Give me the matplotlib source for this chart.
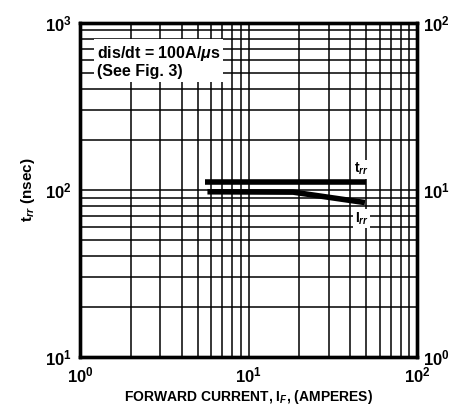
import numpy as np
import matplotlib
matplotlib.use("Agg")
import matplotlib.pyplot as plt
from matplotlib.ticker import LogLocator, NullFormatter

plt.rcParams['font.family'] = ['Liberation Sans', 'DejaVu Sans']
plt.rcParams['font.weight'] = 'bold'
plt.rcParams['axes.labelweight'] = 'bold'
plt.rcParams['mathtext.fontset'] = 'custom'
plt.rcParams['mathtext.rm'] = 'Liberation Sans:bold'
plt.rcParams['mathtext.it'] = 'Liberation Sans:italic:bold'
plt.rcParams['mathtext.bf'] = 'Liberation Sans:bold'

# data (forward current in A)
if_trr = [5.5, 50.0]
trr_ns = [111.0, 111.0]
if_irr = [5.7, 18.4, 49.0]
irr_a = [9.75, 9.7, 8.4]

fig = plt.figure(figsize=(4.52, 4.08), dpi=100)
ax = fig.add_axes([0.177, 0.125, 0.746, 0.819])
ax.set_xscale('log')
ax.set_yscale('log')
ax.set_xlim(1, 100)
ax.set_ylim(10, 1000)

# log paper grid
ax.xaxis.set_minor_locator(LogLocator(base=10, subs=np.arange(2, 10)))
ax.yaxis.set_minor_locator(LogLocator(base=10, subs=np.arange(2, 10)))
ax.xaxis.set_minor_formatter(NullFormatter())
ax.yaxis.set_minor_formatter(NullFormatter())
ax.grid(True, which='both', color='black', linewidth=1.1)
ax.tick_params(which='both', length=0, labelsize=12, pad=6)
for s in ax.spines.values():
    s.set_linewidth(2.4)

ax2 = ax.twinx()
ax2.set_yscale('log')
ax2.set_ylim(1, 100)
ax2.yaxis.set_minor_formatter(NullFormatter())
ax2.tick_params(which='both', length=0, labelsize=12, pad=4)
for s in ax2.spines.values():
    s.set_linewidth(2.4)

ax.plot(if_trr, trr_ns, color='black', linewidth=4, solid_capstyle='butt', zorder=5)
ax2.plot(if_irr, irr_a, color='black', linewidth=4, solid_capstyle='butt', zorder=5)

ax.text(0.05, 0.885, 'dis/dt = 100A/$\\mu$s\n(See Fig. 3)', transform=ax.transAxes,
        fontsize=11.5, va='center', ha='left', linespacing=1.1, zorder=6,
        bbox=dict(facecolor='white', edgecolor='none', pad=2))
ax.text(0.835, 0.562, 't$_{rr}$', transform=ax.transAxes, fontsize=10,
        ha='center', va='center', zorder=6,
        bbox=dict(facecolor='white', edgecolor='none', pad=1))
ax.text(0.835, 0.415, 'I$_{rr}$', transform=ax.transAxes, fontsize=10,
        ha='center', va='center', zorder=6,
        bbox=dict(facecolor='white', edgecolor='none', pad=1))

ax.set_xlabel('FORWARD CURRENT, I$_F$, (AMPERES)', fontsize=10, labelpad=2)
ax.set_ylabel('t$_{rr}$ (nsec)', fontsize=11, labelpad=6)

fig.savefig('out.png', dpi=100)
